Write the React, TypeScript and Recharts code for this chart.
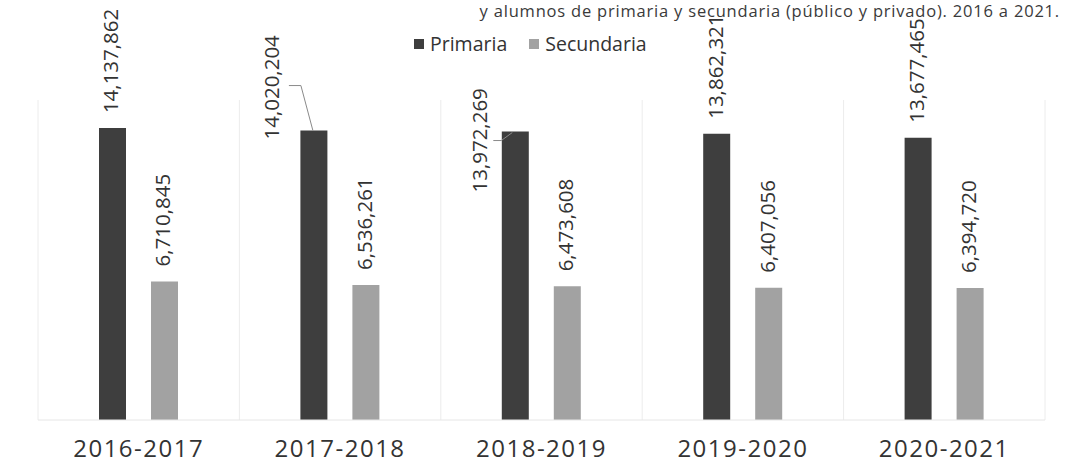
import React from 'react';
import { BarChart, Bar, XAxis, YAxis, CartesianGrid, LabelList } from 'recharts';

const ciclos = ['2016-2017', '2017-2018', '2018-2019', '2019-2020', '2020-2021'];
const primaria = [14137862, 14020204, 13972269, 13862321, 13677465];
const secundaria = [6710845, 6536261, 6473608, 6407056, 6394720];

const data = ciclos.map((c, i) => ({ ciclo: c, primaria: primaria[i], secundaria: secundaria[i] }));

const colors = {
  primaria: '#3e3e3e',
  secundaria: '#a2a2a2',
  grid: '#ececec',
  text: '#333333',
};

const FONT = '"Open Sans", "Noto Sans", sans-serif';

// a couple of primaria labels are pushed aside with a leader line, like in the original
const leaderLabels: Record<number, { dx: number; dy: number; line: number[][] }> = {
  1: { dx: -43, dy: 9, line: [[-25, -45], [-13, -45], [-1, 0]] },
  2: { dx: -36, dy: 61, line: [[-22, 9], [-14, 9], [-3, 1]] },
};

const fmt = (v: number) => v.toLocaleString('en-US');

const makeLabel = (withLeaders: boolean) => (props: any) => {
  const { x, y, width, value, index } = props;
  const cx = Number(x) + Number(width) / 2;
  const top = Number(y);
  const special = withLeaders ? leaderLabels[index] : undefined;
  const lx = special ? cx + special.dx : cx - 2;
  const ly = special ? top + special.dy : top - 15;
  return (
    <g>
      {special && (
        <polyline
          points={special.line.map(([px, py]) => `${cx + px},${top + py}`).join(' ')}
          fill="none"
          stroke="#8a8a8a"
          strokeWidth={1}
        />
      )}
      <text
        x={lx}
        y={ly}
        transform={`rotate(-90, ${lx}, ${ly})`}
        textAnchor="start"
        dominantBaseline="central"
        fontFamily={FONT}
        fontSize={20.5}
        fill={colors.text}
      >
        {fmt(Number(value))}
      </text>
    </g>
  );
};

const CicloTick = (props: any) => {
  const { x, y, payload } = props;
  return (
    <text
      x={x}
      y={Number(y) + 29}
      textAnchor="middle"
      fontFamily={FONT}
      fontSize={24}
      letterSpacing={1.5}
      fill={colors.text}
    >
      {payload.value}
    </text>
  );
};

const LegendBox = () => (
  <div
    style={{
      position: 'absolute',
      left: 414,
      top: 30,
      display: 'flex',
      alignItems: 'center',
      fontFamily: FONT,
      fontSize: 19.5,
      color: colors.text,
      whiteSpace: 'nowrap',
    }}
  >
    <span style={{ display: 'inline-block', width: 10, height: 10, background: colors.primaria, marginRight: 6 }} />
    <span style={{ marginRight: 22 }}>Primaria</span>
    <span style={{ display: 'inline-block', width: 10, height: 10, background: colors.secundaria, marginRight: 6 }} />
    <span>Secundaria</span>
  </div>
);

const App = () => {
  return (
    <div style={{ position: 'absolute', left: 0, top: 0, width: 1066, height: 476, background: '#fff', overflow: 'hidden' }}>
      <div
        style={{
          position: 'absolute',
          right: 6,
          top: 2,
          fontFamily: FONT,
          fontSize: 16.5,
          lineHeight: '18px',
          letterSpacing: 0.8,
          color: '#3a3a3a',
          whiteSpace: 'nowrap',
        }}
      >
        y alumnos de primaria y secundaria (público y privado). 2016 a 2021.
      </div>
      <LegendBox />
      <BarChart
        width={1066}
        height={476}
        data={data}
        margin={{ top: 100, right: 21, left: 38, bottom: 6 }}
        barSize={27}
        barGap={25}
        style={{ position: 'absolute', left: 0, top: 0 }}
      >
        <CartesianGrid
          horizontal={false}
          stroke={colors.grid}
          verticalCoordinatesGenerator={({ offset }: any) =>
            ciclos.map((_, i) => offset.left + (i * offset.width) / ciclos.length).concat(offset.left + offset.width)
          }
        />
        <XAxis
          dataKey="ciclo"
          height={50}
          tickLine={false}
          axisLine={{ stroke: '#e6e6e6' }}
          tick={<CicloTick />}
          interval={0}
        />
        <YAxis hide domain={[0, 15500000]} />
        <Bar dataKey="primaria" name="Primaria" fill={colors.primaria} isAnimationActive={false}>
          <LabelList dataKey="primaria" content={makeLabel(true)} />
        </Bar>
        <Bar dataKey="secundaria" name="Secundaria" fill={colors.secundaria} isAnimationActive={false}>
          <LabelList dataKey="secundaria" content={makeLabel(false)} />
        </Bar>
      </BarChart>
    </div>
  );
};

export default App;
